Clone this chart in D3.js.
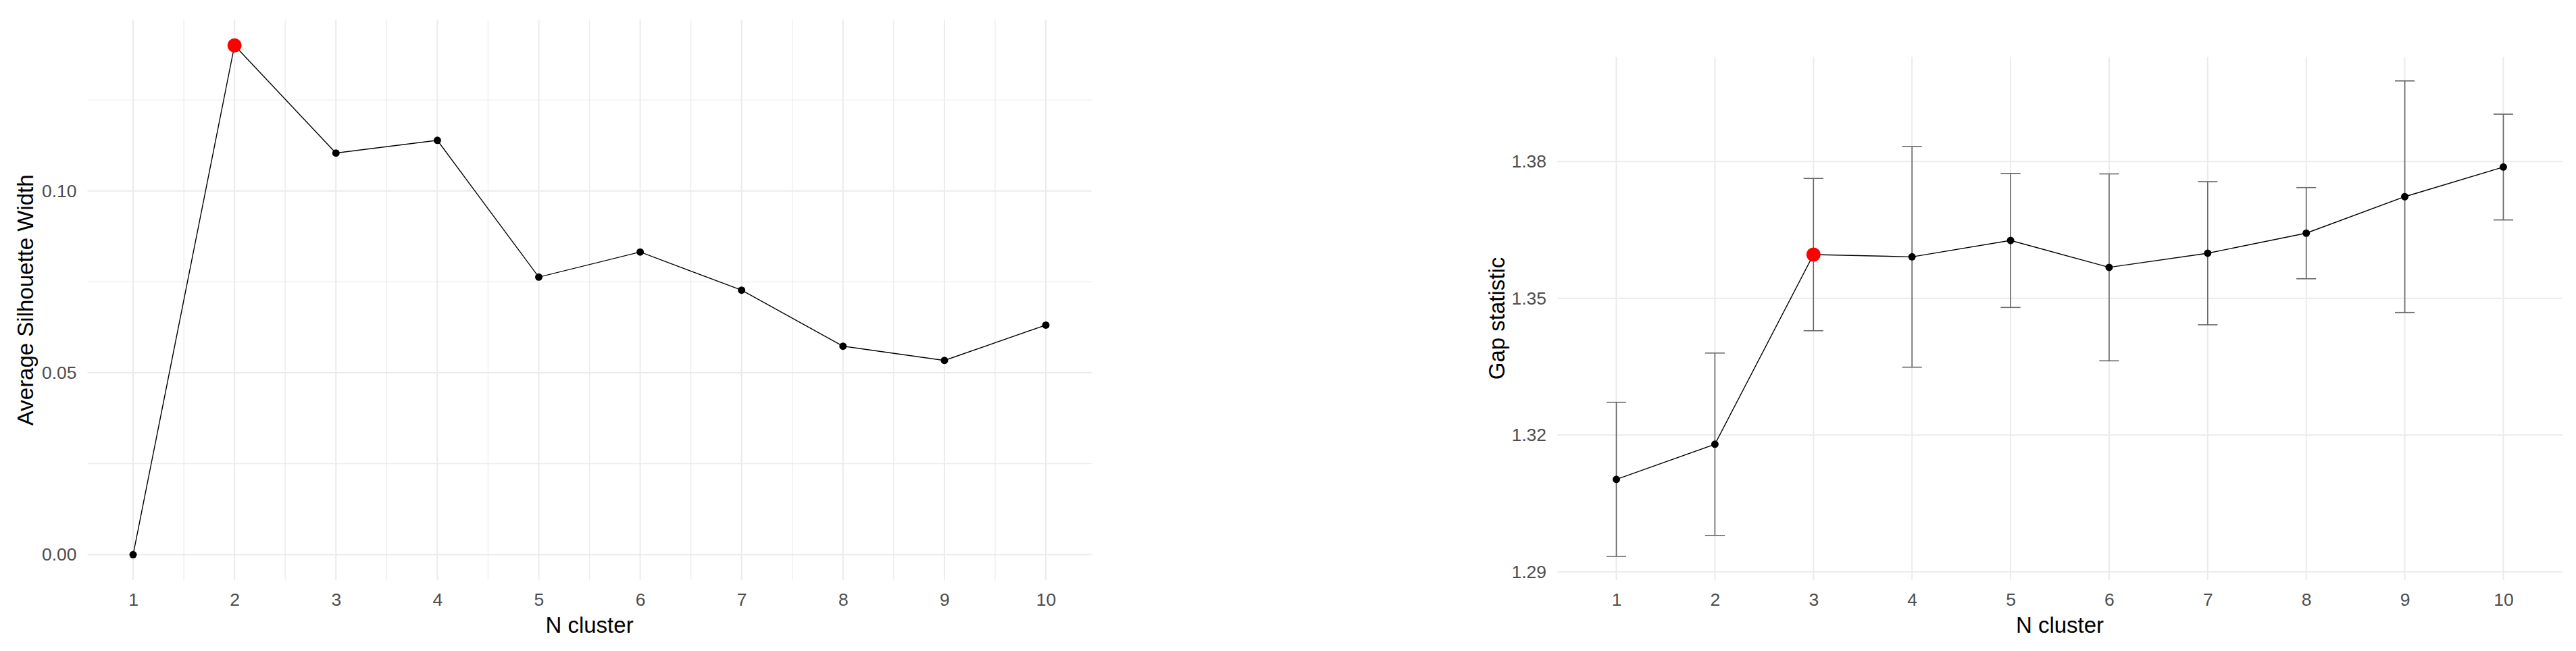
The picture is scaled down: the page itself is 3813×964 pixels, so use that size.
<!DOCTYPE html>
<meta charset="utf-8" />
<style>
  body { margin: 0; background: #fff; }
  svg { display: block; font-family: "Liberation Sans", Arial, sans-serif; }
  .grid line { stroke: #ebebeb; }
  .tick text { fill: #4d4d4d; }
</style>
<svg width="3813" height="964"></svg>
<script src="https://d3js.org/d3.v7.min.js"></script>
<script>
  // cluster counts on the x axis
  const clusters = [1, 2, 3, 4, 5, 6, 7, 8, 9, 10];

  // silhouette method
  const silWidth = [0, 0.140, 0.1104, 0.1139, 0.0763, 0.0832, 0.0727, 0.0573, 0.0534, 0.0631];
  const silBest = 2;
  const silTicks = [0, 0.05, 0.10];
  const silMinor = [0.025, 0.075, 0.125];

  // gap statistic with standard errors
  const gapStat = [1.3103, 1.3180, 1.3596, 1.3591, 1.3627, 1.3568, 1.3599, 1.3643, 1.3723, 1.3788];
  const gapSE = [0.0169, 0.0200, 0.0167, 0.0242, 0.0147, 0.0205, 0.0157, 0.0100, 0.0254, 0.0116];
  const gapBest = 3;
  const gapTicks = [1.29, 1.32, 1.35, 1.38];

  const svg = d3.select('svg');
  const tickSize = 26.5;
  const titleSize = 33;

  function panel(opt) {
    const x = d3.scaleLinear().domain(opt.xDomain).range([opt.left, opt.right]);
    const y = d3.scaleLinear().domain(opt.yDomain).range([opt.bottom, opt.top]);
    const g = svg.append('g');

    const grid = g.append('g').attr('class', 'grid');
    if (opt.minor) {
      grid.selectAll('.hmin')
        .data(opt.yMinor)
        .join('line')
        .attr('x1', opt.left).attr('x2', opt.right)
        .attr('y1', d => y(d)).attr('y2', d => y(d))
        .attr('stroke-width', 1.2);
      grid.selectAll('.vmin')
        .data(clusters.slice(0, -1).map(d => d + 0.5))
        .join('line')
        .attr('class', 'vmin')
        .attr('y1', opt.top).attr('y2', opt.bottom)
        .attr('x1', d => x(d)).attr('x2', d => x(d))
        .attr('stroke-width', 1.2);
    }
    grid.selectAll('.hmaj')
      .data(opt.yTicks)
      .join('line')
      .attr('class', 'hmaj')
      .attr('x1', opt.left).attr('x2', opt.right)
      .attr('y1', d => y(d)).attr('y2', d => y(d))
      .attr('stroke-width', 2);
    grid.selectAll('.vmaj')
      .data(clusters)
      .join('line')
      .attr('class', 'vmaj')
      .attr('y1', opt.top).attr('y2', opt.bottom)
      .attr('x1', d => x(d)).attr('x2', d => x(d))
      .attr('stroke-width', 2);

    // axes, no ticks or domain lines
    const xa = g.append('g')
      .attr('transform', `translate(0,${opt.bottom})`)
      .call(d3.axisBottom(x).tickValues(clusters).tickSize(0).tickPadding(19).tickFormat(d3.format('d')));
    const ya = g.append('g')
      .attr('transform', `translate(${opt.left},0)`)
      .call(d3.axisLeft(y).tickValues(opt.yTicks).tickSize(0).tickPadding(16).tickFormat(d3.format('.2f')));
    [xa, ya].forEach(a => {
      a.select('.domain').remove();
      a.selectAll('text').attr('font-size', tickSize).attr('font-family', '"Liberation Sans", Arial, sans-serif');
    });

    g.append('text')
      .attr('x', (opt.left + opt.right) / 2)
      .attr('y', 937)
      .attr('text-anchor', 'middle')
      .attr('font-size', titleSize)
      .text('N cluster');

    g.append('text')
      .attr('transform', `translate(${opt.titleX},${(opt.top + opt.bottom) / 2}) rotate(-90)`)
      .attr('text-anchor', 'middle')
      .attr('font-size', titleSize)
      .text(opt.yTitle);

    const data = clusters.map((k, i) => ({ k, v: opt.values[i], se: opt.se ? opt.se[i] : 0 }));

    if (opt.se) {
      const eb = g.append('g').attr('stroke', '#666').attr('stroke-width', 1.6);
      eb.selectAll('.stem')
        .data(data)
        .join('line')
        .attr('x1', d => x(d.k)).attr('x2', d => x(d.k))
        .attr('y1', d => y(d.v - d.se)).attr('y2', d => y(d.v + d.se));
      ['-', '+'].forEach(s => {
        eb.selectAll('.cap' + (s === '+' ? 'u' : 'l'))
          .data(data)
          .join('line')
          .attr('x1', d => x(d.k - 0.1)).attr('x2', d => x(d.k + 0.1))
          .attr('y1', d => y(s === '+' ? d.v + d.se : d.v - d.se))
          .attr('y2', d => y(s === '+' ? d.v + d.se : d.v - d.se));
      });
    }

    g.append('path')
      .datum(data)
      .attr('fill', 'none')
      .attr('stroke', '#000')
      .attr('stroke-width', 1.4)
      .attr('d', d3.line().x(d => x(d.k)).y(d => y(d.v)));

    g.selectAll('.pt')
      .data(data)
      .join('circle')
      .attr('cx', d => x(d.k))
      .attr('cy', d => y(d.v))
      .attr('r', 5.5)
      .attr('fill', '#000');

    g.selectAll('.best')
      .data(data.filter(d => d.k === opt.best))
      .join('circle')
      .attr('cx', d => x(d.k))
      .attr('cy', d => y(d.v))
      .attr('r', 10.5)
      .attr('fill', '#ff0000');
  }

  panel({
    values: silWidth,
    best: silBest,
    xDomain: [0.55, 10.45],
    yDomain: [-0.007, 0.147],
    left: 129.5, right: 1615.6, top: 29.5, bottom: 859,
    yTicks: silTicks,
    minor: true,
    yMinor: silMinor,
    titleX: 48.5,
    yTitle: 'Average Silhouette Width'
  });

  panel({
    values: gapStat,
    se: gapSE,
    best: gapBest,
    xDomain: [0.4, 10.6],
    yDomain: [1.2882, 1.4030],
    left: 2305, right: 3793, top: 84, bottom: 859,
    yTicks: gapTicks,
    minor: false,
    titleX: 2227,
    yTitle: 'Gap statistic'
  });
</script>
